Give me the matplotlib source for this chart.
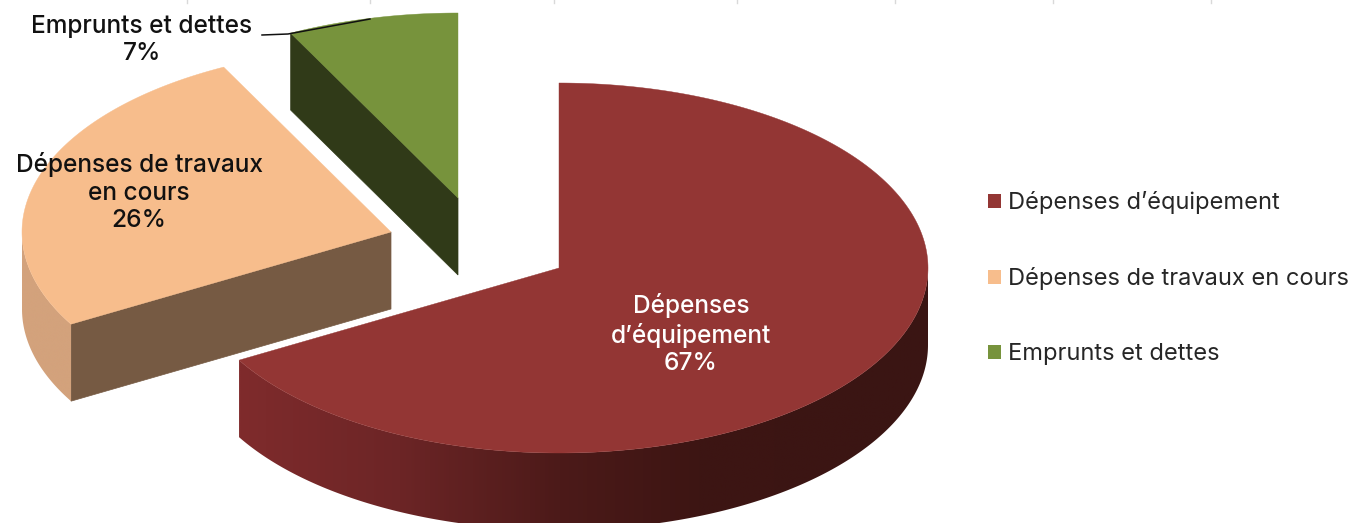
import numpy as np
import matplotlib
matplotlib.use("Agg")
import matplotlib.pyplot as plt
from matplotlib.patches import Polygon, Patch
from matplotlib.colors import LinearSegmentedColormap

# Répartition des dépenses
categories = ["Dépenses d’équipement", "Dépenses de travaux en cours", "Emprunts et dettes"]
shares = [66.7, 25.81, 7.49]
wedge_labels = ["Dépenses\nd’équipement", "Dépenses de travaux\nen cours", "Emprunts et dettes"]

top_colors = ["#933634", "#f7bd8c", "#77933c"]
cut_colors = ["#7f2b2c", "#765a43", "#303a18"]
apexes = [(559, 268), (391, 232), (458, 198)]
label_pos = [(691, 334), (139, 192), (142, 40)]
label_colors = ["white", "#111111", "#111111"]

RX, RY, DEPTH = 369, 185, 77
FONT = "Inter"
FS_LABEL = 17.6
FS_LEGEND = 17.0

W, H = 1351, 523
fig = plt.figure(figsize=(W / 100, H / 100), dpi=100)
ax = fig.add_axes([0, 0, 1, 1])
ax.set_xlim(0, W)
ax.set_ylim(H, 0)
ax.axis("off")


def rim_point(apex, theta, drop=0.0):
    """Point on the ellipse; theta runs clockwise from 12 o'clock, in radians."""
    return apex[0] + RX * np.sin(theta), apex[1] - RY * np.cos(theta) + drop


# Wall shading as it runs left to right across each wedge
wall_shades = [
    [(0.0, "#7f2b2c"), (0.233, "#6c2526"), (0.465, "#4c1a19"), (0.667, "#3d1513"), (1.0, "#3a1513")],
    [(0.0, "#d3a27c"), (1.0, "#d3a27c")],
    [(0.0, "#303a18"), (1.0, "#303a18")],
]

# Radial tick remnants along the top edge
for x in [187, 370, 554, 737, 895, 1053, 1211]:
    ax.plot([x, x], [0, 3], color="#d9d9d9", lw=1, zorder=0)

angles = np.radians(np.cumsum([0] + shares) / sum(shares) * 360)
for i in [2, 1, 0]:
    start, end = angles[i], angles[i + 1]
    apex = apexes[i]
    z = 3 - i

    # Cut face running from the apex to the wedge's first edge
    sx, sy = rim_point(apex, start)
    if i > 0:
        ax.add_patch(Polygon([apex, (sx, sy), (sx, sy + DEPTH), (apex[0], apex[1] + DEPTH)],
                             closed=True, fc=cut_colors[i], ec=cut_colors[i], lw=0.5, zorder=z))

    # Outer wall: a horizontal gradient clipped to the visible part of the arc
    lo, hi = max(start, np.pi / 2), min(end, 3 * np.pi / 2)
    if hi > lo:
        t = np.linspace(lo, hi, 300)
        xs, ys = rim_point(apex, t)
        outline = np.column_stack([np.r_[xs, xs[::-1]], np.r_[ys, ys[::-1] + DEPTH]])
        clip = Polygon(outline, closed=True, fc="none", ec="none", transform=ax.transData)
        ax.add_patch(clip)
        cmap = LinearSegmentedColormap.from_list("wall", wall_shades[i])
        im = ax.imshow(np.linspace(0, 1, 512)[None, :],
                       extent=(xs.min(), xs.max(), ys.max() + DEPTH, ys.min()), cmap=cmap,
                       aspect="auto", interpolation="bilinear", zorder=z)
        im.set_clip_path(clip)

    # Top face
    t = np.linspace(start, end, 300)
    xs, ys = rim_point(apex, t)
    pts = np.column_stack([np.r_[apex[0], xs], np.r_[apex[1], ys]])
    ax.add_patch(Polygon(pts, closed=True, fc=top_colors[i], ec=top_colors[i], lw=0.3, zorder=z + 0.1))

ax.set_xlim(0, W)
ax.set_ylim(H, 0)

# Leader line for the smallest wedge
ax.plot([262, 288, 370], [35, 34, 19], color="#111111", lw=1.1, zorder=6)

for i, (x, y) in enumerate(label_pos):
    ax.text(x, y, f"{wedge_labels[i]}\n{round(shares[i])}%", ha="center", va="center",
            multialignment="center", color=label_colors[i], fontsize=FS_LABEL, family=FONT,
            weight="medium", linespacing=1.24, zorder=7)

handles = [Patch(fc=c, ec="none") for c in top_colors]
ax.legend(handles, categories, loc="upper left", bbox_to_anchor=(988 / W, 1 - 191 / H),
          bbox_transform=fig.transFigure, frameon=False, prop={"family": FONT, "size": FS_LEGEND},
          handlelength=0.53, handleheight=0.53, handletextpad=0.3, labelspacing=2.25,
          labelcolor="#262626", borderpad=0, borderaxespad=0)

fig.savefig("out.png", dpi=100, facecolor="white")
